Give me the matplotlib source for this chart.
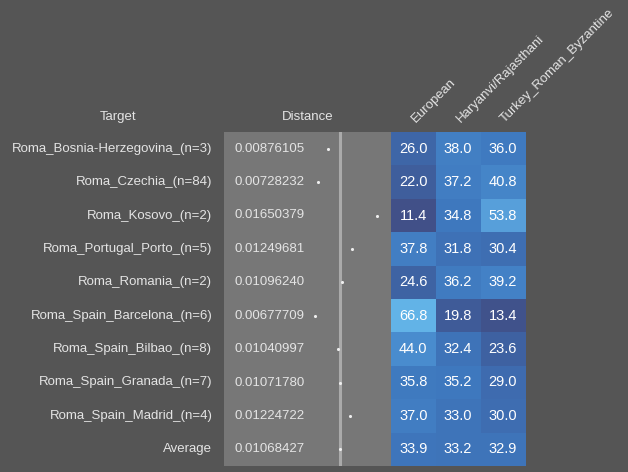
import numpy as np
import matplotlib.pyplot as plt
from matplotlib.colors import LinearSegmentedColormap
import matplotlib.transforms as mtransforms


# data -------------------------------------------------------------------
targets = ["Roma_Bosnia-Herzegovina_(n=3)", "Roma_Czechia_(n=84)", "Roma_Kosovo_(n=2)",
           "Roma_Portugal_Porto_(n=5)", "Roma_Romania_(n=2)", "Roma_Spain_Barcelona_(n=6)",
           "Roma_Spain_Bilbao_(n=8)", "Roma_Spain_Granada_(n=7)", "Roma_Spain_Madrid_(n=4)",
           "Average"]
distance = [0.00876105, 0.00728232, 0.01650379, 0.01249681, 0.01096240,
            0.00677709, 0.01040997, 0.01071780, 0.01224722, 0.01068427]
sources = ["European", "Haryanvi/Rajasthani", "Turkey_Roman_Byzantine"]
european = [26.0, 22.0, 11.4, 37.8, 24.6, 66.8, 44.0, 35.8, 37.0, 33.9]
haryanvi = [38.0, 37.2, 34.8, 31.8, 36.2, 19.8, 32.4, 35.2, 33.0, 33.2]
turkey = [36.0, 40.8, 53.8, 30.4, 39.2, 13.4, 23.6, 29.0, 30.0, 32.9]

bg = "#555555"
panel = "#777777"
txt = "#e4e4e4"
plt.rcParams['font.family'] = ['Liberation Sans', 'DejaVu Sans']

values = np.array([european, haryanvi, turkey]).T
n = len(targets)

cmap = LinearSegmentedColormap.from_list("roma", [
    (0.0, "#415088"), (0.19, "#3f5f9d"), (0.32, "#3e6cb0"), (0.43, "#3f79bf"),
    (0.59, "#4a8dcf"), (0.77, "#58a0db"), (1.0, "#62b3e7")])

fig = plt.figure(figsize=(6.28, 4.72), dpi=100, facecolor=bg)
W, H = 628, 472
top, bottom = 132, 466

# distance panel -----------------------------------------------------------
ax_d = fig.add_axes([224 / W, 1 - bottom / H, (391 - 224) / W, (bottom - top) / H])
ax_d.set_facecolor(panel)
ax_d.set_xlim(-0.00752, 0.01866)
ax_d.set_ylim(n - 0.5, -0.5)
ax_d.axvline(distance[-1], color="#aaaaaa", lw=2.2)
ax_d.scatter(distance, np.arange(n), s=5, color="#eeeeee", zorder=3, linewidths=0)
blend = mtransforms.blended_transform_factory(ax_d.transAxes, ax_d.transData)
for i, d in enumerate(distance):
    ax_d.text(0.06, i, "%.8f" % d, color=txt, fontsize=9.5, va="center", ha="left",
              transform=blend)
    ax_d.text(-0.07, i, targets[i], color=txt, fontsize=9.5, va="center", ha="right",
              transform=blend)
ax_d.text(0.5, 1.045, "Distance", color=txt, fontsize=9.5, ha="center", va="center",
          transform=ax_d.transAxes)
ax_d.text(-0.635, 1.045, "Target", color=txt, fontsize=9.5, ha="center", va="center",
          transform=ax_d.transAxes)
ax_d.set_xticks([])
ax_d.set_yticks([])
for s in ax_d.spines.values():
    s.set_visible(False)

# heatmap ------------------------------------------------------------------
ax_h = fig.add_axes([391 / W, 1 - bottom / H, (525 - 391) / W, (bottom - top) / H])
ax_h.imshow(values, cmap=cmap, vmin=values.min(), vmax=values.max(), aspect="auto",
            interpolation="nearest")
for i in range(n):
    for j in range(len(sources)):
        ax_h.text(j, i, "%.1f" % values[i, j], color="white", fontsize=10.5,
                  ha="center", va="center")
for j, s in enumerate(sources):
    ax_h.text(j + 0.1, -0.72, s, color=txt, fontsize=9.5, rotation=45,
              rotation_mode="anchor", ha="left", va="bottom")
ax_h.set_xticks([])
ax_h.set_yticks([])
for s in ax_h.spines.values():
    s.set_visible(False)

fig.savefig("out.png", dpi=100, facecolor=bg)
